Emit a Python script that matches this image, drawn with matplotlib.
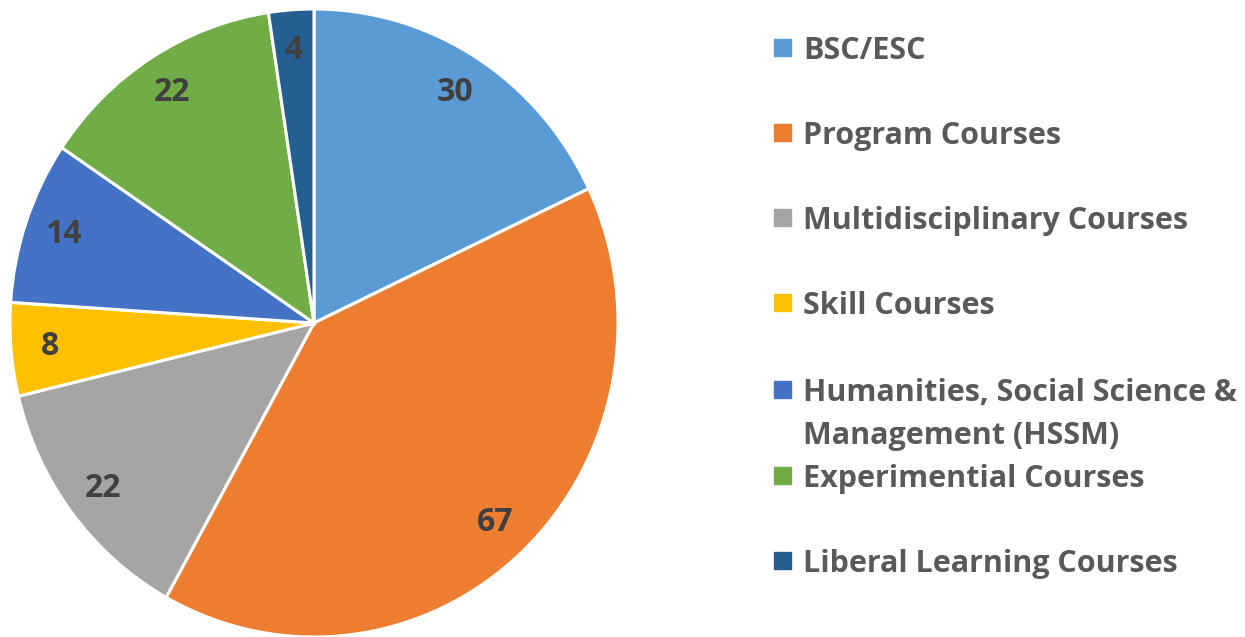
import matplotlib.pyplot as plt
from matplotlib.patches import Rectangle

# course credit split
categories = ['BSC/ESC', 'Program Courses', 'Multidisciplinary Courses', 'Skill Courses',
              'Humanities, Social Science &\nManagement (HSSM)', 'Experimential Courses',
              'Liberal Learning Courses']
credits = [30, 67, 22, 8, 14, 22, 4]
colors = ['#5B9BD5', '#ED7D31', '#A5A5A5', '#FFC000', '#4472C4', '#70AD47', '#255E91']

plt.rcParams['font.family'] = ['Open Sans', 'DejaVu Sans']
W, H = 1245, 637
fig = plt.figure(figsize=(W / 100, H / 100), dpi=100)

# pie axes, slightly taller than wide like the original
ax = fig.add_axes([10 / W, (H - 637) / H, 608 / W, 628 / H])
wedges, texts = ax.pie(credits, colors=colors, startangle=90, counterclock=False,
                       labels=[str(c) for c in credits], labeldistance=0.87,
                       wedgeprops=dict(edgecolor='white', linewidth=2.2),
                       textprops=dict(fontsize=23, fontweight='bold', color='#404040'))
for t in texts:
    t.set_ha('center')
    t.set_va('center')
ax.set_aspect('auto')
ax.set_xlim(-1, 1)
ax.set_ylim(-1, 1)

# legend on the right, drawn by hand
legend_y = [48, 133, 218, 303, 390, 476, 561]
for lab, col, y in zip(categories, colors, legend_y):
    fig.patches.append(Rectangle((774 / W, (H - y - 8) / H), 17 / W, 17 / H,
                                 transform=fig.transFigure, color=col))
    fig.text(803 / W, (H - y + 12) / H, lab, fontsize=22, fontweight='bold',
             color='#595959', ha='left', va='top', linespacing=1.56)

fig.savefig('out.png', dpi=100)
